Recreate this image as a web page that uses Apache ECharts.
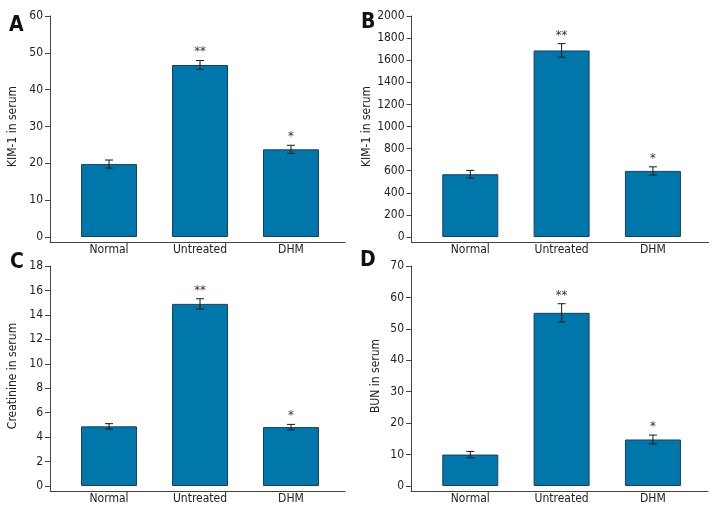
<!DOCTYPE html>
<html>
<head>
    <meta charset="utf-8">
    <title>KIM-1 / Creatinine / BUN</title>
    <script src="https://cdn.jsdelivr.net/npm/echarts@6/dist/echarts.min.js"></script>
    <style>
        html, body { margin: 0; padding: 0; background: #fff; }
        #chart1 { width: 720px; height: 516px; }
    </style>
</head>
<body>
<div id="chart1"></div>
<script type="text/javascript">
    // 数据
    var categories = ['Normal', 'Untreated', 'DHM'];
    var stars = ['', '**', '*'];

    var kimA = [19.8, 46.7, 23.8];
    var kimAErr = [1.1, 1.2, 1.1];

    var kimB = [568, 1688, 598];
    var kimBErr = [35, 62, 37];

    var creat = [4.88, 14.9, 4.82];
    var creatErr = [0.22, 0.42, 0.22];

    var bun = [10.0, 55.1, 14.8];
    var bunErr = [1.0, 2.9, 1.4];

    var font = "'Liberation Sans Narrow', 'DejaVu Sans Condensed', 'Roboto Condensed', sans-serif";
    var axisColor = '#444';
    var textColor = '#222';

    // panels: main grid + small grid for the axis extension
    var panels = [
        { letter: 'A', name: 'KIM-1 in serum', vals: kimA, errs: kimAErr, max: 60, step: 10,
          main: { left: 63.5, top: 16, width: 273, height: 221 }, off: 13.5,
          ext: { left: 50, top: 237, width: 295, height: 5 }, nameGap: 31, lx: 9, ly: 15 },
        { letter: 'B', name: 'KIM-1 in serum', vals: kimB, errs: kimBErr, max: 2000, step: 200,
          main: { left: 424.6, top: 16, width: 274, height: 221 }, off: 13,
          ext: { left: 411.5, top: 237, width: 297, height: 5 }, nameGap: 35, lx: 361, ly: 12 },
        { letter: 'C', name: 'Creatinine in serum', vals: creat, errs: creatErr, max: 18, step: 2,
          main: { left: 63.5, top: 266, width: 273, height: 220 }, off: 13.5,
          ext: { left: 50, top: 486, width: 295, height: 5 }, nameGap: 31, lx: 10, ly: 252 },
        { letter: 'D', name: 'BUN in serum', vals: bun, errs: bunErr, max: 70, step: 10,
          main: { left: 424.6, top: 266, width: 274, height: 220 }, off: 13.6,
          ext: { left: 411, top: 486, width: 297, height: 5 }, nameGap: 29, lx: 360, ly: 250 }
    ];

    var grid = [], xAxis = [], yAxis = [], series = [], title = [];

    panels.forEach(function (p, k) {
        var gi = grid.length;
        grid.push(p.main);
        grid.push(p.ext);

        title.push({
            text: p.letter, left: p.lx, top: p.ly, padding: 0,
            textStyle: { fontFamily: font, fontSize: 21, fontWeight: 'bold', color: '#111' }
        });

        xAxis.push({
            type: 'category', gridIndex: gi, data: categories,
            axisLine: { show: false }, axisTick: { show: false },
            axisLabel: { color: textColor, fontFamily: font, fontSize: 12, margin: 7 }
        });
        xAxis.push({
            type: 'value', gridIndex: gi + 1, position: 'top', min: 0, max: 1,
            axisLine: { show: true, lineStyle: { color: axisColor, width: 1 } },
            axisTick: { show: false }, axisLabel: { show: false }, splitLine: { show: false }
        });
        yAxis.push({
            type: 'value', gridIndex: gi, min: 0, max: p.max, interval: p.step, offset: p.off,
            name: p.name, nameLocation: 'middle', nameGap: p.nameGap, nameRotate: 90,
            nameTextStyle: { color: textColor, fontFamily: font, fontSize: 12 },
            axisLine: { show: true, lineStyle: { color: axisColor, width: 1 } },
            axisTick: { show: true, length: 5, lineStyle: { color: axisColor } },
            axisLabel: { color: textColor, fontFamily: font, fontSize: 12, margin: 7,
                formatter: function (v) { return String(v); } },
            splitLine: { show: false }
        });
        yAxis.push({
            type: 'value', gridIndex: gi + 1, min: 0, max: 1,
            axisLine: { show: true, lineStyle: { color: axisColor, width: 1 } },
            axisTick: { show: false }, axisLabel: { show: false }, splitLine: { show: false }
        });

        series.push({
            type: 'bar', xAxisIndex: gi, yAxisIndex: gi, data: p.vals,
            barWidth: 56,
            itemStyle: { color: '#0077aa', borderColor: '#1d3f5e', borderWidth: 1 },
            silent: true
        });

        var errs = p.errs;
        series.push({
            type: 'custom', xAxisIndex: gi, yAxisIndex: gi, z: 5,
            data: p.vals.map(function (v, i) { return [i, v, errs[i]]; }),
            encode: { x: 0, y: 1 },
            renderItem: function (params, api) {
                var x = api.value(0), v = api.value(1), e = api.value(2);
                var hi = api.coord([x, v + e]);
                var lo = api.coord([x, v - e]);
                var half = 4;
                var st = { stroke: '#1a1a1a', lineWidth: 1 };
                return {
                    type: 'group',
                    children: [
                        { type: 'line', shape: { x1: hi[0], y1: hi[1], x2: lo[0], y2: lo[1] }, style: st },
                        { type: 'line', shape: { x1: hi[0] - half, y1: hi[1], x2: hi[0] + half, y2: hi[1] }, style: st },
                        { type: 'line', shape: { x1: lo[0] - half, y1: lo[1], x2: lo[0] + half, y2: lo[1] }, style: st },
                        { type: 'text', style: {
                            x: hi[0], y: hi[1] - 2, text: stars[params.dataIndex],
                            textAlign: 'center', textVerticalAlign: 'bottom',
                            fontFamily: font, fontSize: 13, fill: '#333'
                        } }
                    ]
                };
            }
        });
    });

    var myChart1 = echarts.init(document.getElementById('chart1'));
    myChart1.setOption({
        animation: false,
        title: title,
        grid: grid,
        xAxis: xAxis,
        yAxis: yAxis,
        series: series
    });
</script>
</body>
</html>
